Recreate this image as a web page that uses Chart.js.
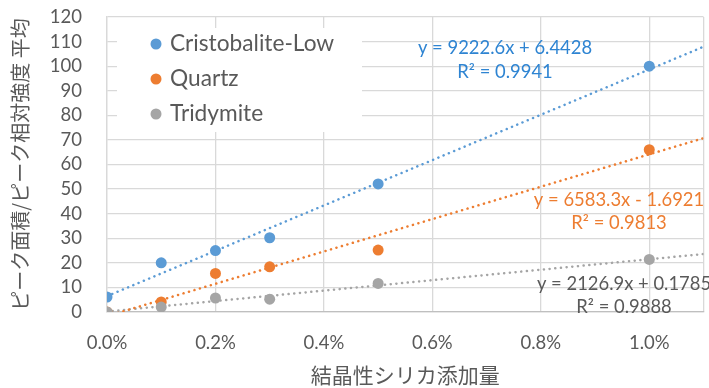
<!DOCTYPE html>
<html>
<head>
<meta charset="utf-8">
<script src="https://cdn.jsdelivr.net/npm/chart.js@4.4.0/dist/chart.umd.min.js"></script>
<style>
  html, body { margin: 0; padding: 0; background: #fff; }
  #wrap { width: 709px; height: 388px; }
</style>
</head>
<body>
<div id="wrap"><canvas id="myChart" width="709" height="388"></canvas></div>
<script>
// 添加量 (%)
const addRate = [0.0, 0.1, 0.2, 0.3, 0.5, 1.0];
const cristobalite = [6.1, 20.0, 25.0, 30.2, 52.1, 100.0];
const quartz = [0.0, 4.1, 15.7, 18.4, 25.2, 66.0];
const tridymite = [0.0, 2.0, 5.7, 5.2, 11.6, 21.4];

const seriesNames = ["Cristobalite-Low", "Quartz", "Tridymite"];
const seriesColors = ["#5B9BD5", "#ED7D31", "#A5A5A5"];
const eqColors = ["#2E84D2", "#ED7D31", "#595959"];
// trendline y = slope * x + intercept (x as fraction)
const slopes = [9222.6, 6583.3, 2126.9];
const intercepts = [6.4428, -1.6921, 0.1785];
const eqTexts = ["y = 9222.6x + 6.4428", "y = 6583.3x - 1.6921", "y = 2126.9x + 0.1785"];
const r2Texts = ["R\u00B2 = 0.9941", "R\u00B2 = 0.9813", "R\u00B2 = 0.9888"];

const xTicks = [0, 0.2, 0.4, 0.6, 0.8, 1.0, 1.1];
const xMax = 1.1;

const latin = "Lato, 'Open Sans', sans-serif";
const cjk = "'Noto Sans CJK JP', sans-serif";

const values = [cristobalite, quartz, tridymite];

const datasets = [];
values.forEach((arr, i) => {
  datasets.push({
    type: "scatter",
    label: seriesNames[i],
    data: arr.map((v, j) => ({ x: addRate[j], y: v })),
    backgroundColor: seriesColors[i],
    borderColor: seriesColors[i],
    pointRadius: 5.5,
    pointHoverRadius: 5.5,
    borderWidth: 0,
    order: 3 - i
  });
});
values.forEach((arr, i) => {
  datasets.push({
    type: "line",
    label: "trend" + i,
    data: [
      { x: 0, y: intercepts[i] },
      { x: xMax, y: slopes[i] * xMax / 100 + intercepts[i] }
    ],
    borderColor: seriesColors[i],
    borderWidth: 2.5,
    borderDash: [0.1, 5.6],
    borderCapStyle: "round",
    pointRadius: 0,
    fill: false,
    order: 10
  });
});

// legend box drawn inside plot, over grid
const legendBox = {
  id: "legendBox",
  beforeDatasetsDraw(chart) {
    const ctx = chart.ctx;
    ctx.save();
    ctx.fillStyle = "#fff";
    ctx.fillRect(117, 28, 245, 104);
    ctx.font = "22.7px " + latin;
    ctx.textBaseline = "middle";
    seriesNames.forEach((name, i) => {
      const y = 44 + i * 35;
      ctx.fillStyle = seriesColors[i];
      ctx.beginPath();
      ctx.arc(156, y, 5.5, 0, Math.PI * 2);
      ctx.fill();
      ctx.fillStyle = "#595959";
      ctx.fillText(name, 170, y);
    });
    ctx.restore();
  }
};

const eqLabels = {
  id: "eqLabels",
  afterDatasetsDraw(chart) {
    const ctx = chart.ctx;
    const pos = [[505, 48, 72], [619, 200, 223], [624, 284, 307]];
    ctx.save();
    ctx.font = "18.4px " + latin;
    ctx.textAlign = "center";
    ctx.textBaseline = "middle";
    pos.forEach((p, i) => {
      ctx.fillStyle = eqColors[i];
      ctx.fillText(eqTexts[i], p[0], p[1]);
      ctx.fillText(r2Texts[i], p[0], p[2]);
    });
    ctx.restore();
  }
};

new Chart(document.getElementById("myChart"), {
  data: { datasets },
  options: {
    responsive: false,
    animation: false,
    layout: { padding: { left: 0, right: 2, top: 17, bottom: 0 } },
    plugins: {
      legend: { display: false },
      tooltip: { enabled: false }
    },
    scales: {
      x: {
        type: "linear",
        min: 0,
        max: xMax,
        afterBuildTicks: (scale) => { scale.ticks = xTicks.map(v => ({ value: v })); },
        afterFit: (scale) => {
          scale.height = 76;
          scale.paddingLeft = 0;
          scale.paddingRight = 0;
        },
        grid: { color: "#D9D9D9", lineWidth: 1.3, drawTicks: false },
        border: { color: "#BFBFBF", width: 1.3 },
        ticks: {
          color: "#595959",
          font: { family: latin, size: 18.5 },
          padding: 20,
          maxRotation: 0,
          autoSkip: false,
          callback: (v) => (v > 1.05 ? "" : v.toFixed(1) + "%")
        },
        title: {
          display: true,
          text: "結晶性シリカ添加量",
          color: "#595959",
          font: { family: cjk, size: 21 },
          padding: { top: 4, bottom: 0 }
        }
      },
      y: {
        min: 0,
        max: 120,
        afterFit: (scale) => {
          scale.width = 107;
          scale.paddingTop = 0;
          scale.paddingBottom = 0;
        },
        grid: { color: "#D9D9D9", lineWidth: 1.3, drawTicks: false },
        border: { color: "#D9D9D9", width: 1.3 },
        ticks: {
          stepSize: 10,
          autoSkip: false,
          color: "#595959",
          font: { family: latin, size: 18.5 },
          padding: 25
        },
        title: {
          display: true,
          text: "ピーク面積/ピーク相対強度 平均",
          color: "#595959",
          font: { family: cjk, size: 20 },
          padding: { top: 8, bottom: 0 }
        }
      }
    }
  },
  plugins: [legendBox, eqLabels]
});
</script>
</body>
</html>
